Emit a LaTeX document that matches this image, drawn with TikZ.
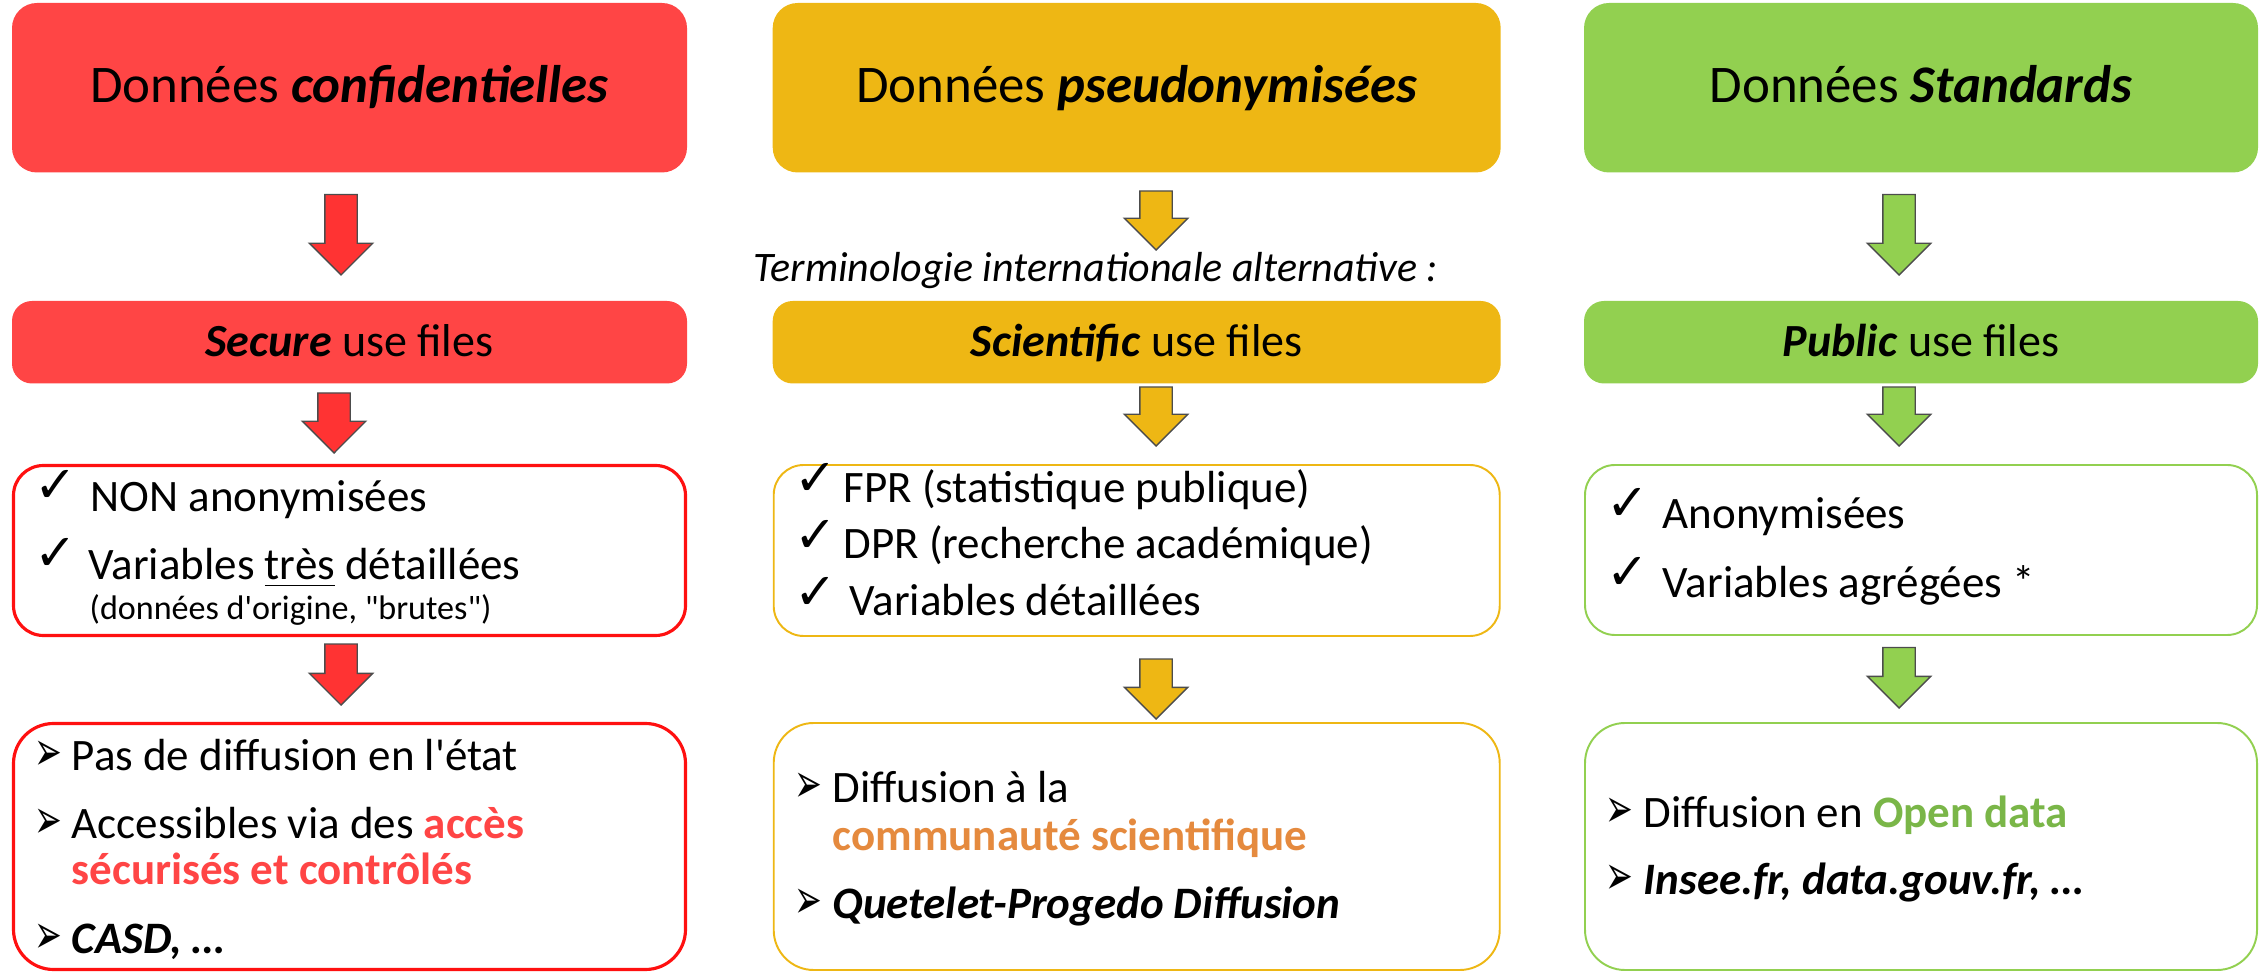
\documentclass[tikz,border=0pt]{standalone}
\usepackage{fontspec}
\setmainfont{Carlito}
\newfontfamily\symb{DejaVu Sans}
\usetikzlibrary{shapes.arrows}
\definecolor{redbox}{HTML}{FF4545}
\definecolor{redarr}{HTML}{FF3333}
\definecolor{redline}{HTML}{FF1010}
\definecolor{yelbox}{HTML}{EEB714}
\definecolor{grnbox}{HTML}{92D050}
\definecolor{grntext}{HTML}{7AB648}
\definecolor{orgtext}{HTML}{E58A3E}
\newcommand{\apos}{\textquotesingle}
\newcommand{\arrbul}{\scalebox{0.9}[1.5]{➢}}

\begin{document}
\begin{tikzpicture}[
    x=0.1mm, y=-0.1mm,
    headbox/.style={fill=#1, rounded corners=2.5mm, inner sep=0pt, minimum height=16.95mm,
        text height=3.6mm, text depth=0.7mm, font=\fontsize{15.05}{17}\selectfont},
    usebox/.style={fill=#1, rounded corners=2mm, inner sep=0pt, minimum height=8.25mm,
        text height=3.6mm, text depth=0.7mm, font=\fontsize{13.1}{16}\selectfont},
    framebox/.style={draw=#1, fill=white, line width=0.55pt, inner sep=0pt},
    downarrow/.style={single arrow, draw=black!70, line width=0.4pt, fill=#1, rotate=-90, anchor=tip,
        inner xsep=0pt, inner ysep=1.55mm, single arrow head extend=1.55mm,
        single arrow tip angle=90, single arrow head indent=0pt},
    line/.style={anchor=base west, inner sep=0pt, font=\fontsize{12.8}{15}\selectfont},
    small/.style={anchor=base west, inner sep=0pt, font=\fontsize{9.7}{12}\selectfont},
    tick/.style={anchor=base west, inner sep=0pt, font=\symb\fontsize{14.5}{16}\selectfont},
    bullet/.style={anchor=base west, inner sep=0pt, font=\symb\fontsize{10.5}{12}\selectfont}
]
\useasboundingbox (0,0) rectangle (2259,973);

% Headers
\node[headbox=redbox, minimum width=67.5mm] (conf) at (349.5,87.75) {Données \textbf{\textit{confidentielles}}};
\node[headbox=yelbox, minimum width=72.8mm] (pseudo) at (1136.7,87.75) {Données \textbf{\textit{pseudonymisées}}};
\node[headbox=grnbox, minimum width=67.4mm] (std) at (1921,87.75) {Données \textbf{\textit{Standards}}};

% Use files
\node[usebox=redbox, minimum width=67.5mm] (secure) at (349.5,342.25) {\textbf{\textit{Secure}} use files};
\node[usebox=yelbox, minimum width=72.8mm] (scient) at (1136.7,342.25) {\textbf{\textit{Scientific}} use files};
\node[usebox=grnbox, minimum width=67.4mm] (public) at (1921,342.25) {\textbf{\textit{Public}} use files};
\node[anchor=base west, inner sep=0pt, font=\fontsize{11.95}{14}\selectfont\itshape] (term) at (753,282) {Terminologie internationale alternative :};

% Frames
\node[framebox=redline, line width=0.9pt, rounded corners=3mm, minimum width=67.2mm, minimum height=17.0mm] (redvar) at (349.5,550.5) {};
\node[framebox=redline, line width=0.9pt, rounded corners=4mm, minimum width=67.2mm, minimum height=24.6mm] (reddif) at (349.5,846.5) {};
\node[framebox=yelbox, rounded corners=3mm, minimum width=72.6mm, minimum height=17.1mm] (yelvar) at (1136.7,550.5) {};
\node[framebox=yelbox, rounded corners=4mm, minimum width=72.6mm, minimum height=24.7mm] (yeldif) at (1136.7,846.5) {};
\node[framebox=grnbox, rounded corners=3mm, minimum width=67.2mm, minimum height=17.0mm] (grnvar) at (1921,550) {};
\node[framebox=grnbox, rounded corners=4mm, minimum width=67.2mm, minimum height=24.7mm] (grndif) at (1921,846.5) {};

% Arrows
\node[downarrow=redarr, minimum height=8.05mm] (ra1) at (341,276) {};
\node[downarrow=redarr, minimum height=6.0mm] (ra2) at (334,454) {};
\node[downarrow=redarr, minimum height=6.1mm] (ra3) at (341,706) {};
\node[downarrow=yelbox, minimum height=5.9mm] (ya1) at (1156,251) {};
\node[downarrow=yelbox, minimum height=5.9mm] (ya2) at (1156,447) {};
\node[downarrow=yelbox, minimum height=6.0mm] (ya3) at (1156,720) {};
\node[downarrow=grnbox, minimum height=8.05mm] (ga1) at (1899,276) {};
\node[downarrow=grnbox, minimum height=5.9mm] (ga2) at (1899,447) {};
\node[downarrow=grnbox, minimum height=6.05mm] (ga3) at (1899,709) {};

% Red column text
\node[tick] (rt1) at (34,503) {✓};
\node[line] (rl1) at (90,512) {NON anonymisées};
\node[tick] (rt2) at (34,571) {✓};
\node[line] (rl2) at (88,580) {Variables \underline{très} détaillées};
\node[small] (rl3) at (89,620) {(données d\apos origine, \textquotedbl brutes\textquotedbl)};
\node[bullet] (rb1) at (34,770) {\arrbul};
\node[line] (rd1) at (71,770) {Pas de diffusion en l\apos état};
\node[bullet] (rb2) at (34,838) {\arrbul};
\node[line] (rd2) at (71,838) {Accessibles via des \textcolor{redbox}{\textbf{accès}}};
\node[line] (rd3) at (71,884) {\textcolor{redbox}{\textbf{sécurisés et contrôlés}}};
\node[bullet] (rb3) at (34,953) {\arrbul};
\node[line] (rd4) at (71,953) {\textbf{\textit{CASD, …}}};

% Yellow column text
\node[tick] (yt1) at (794,496) {✓};
\node[line] (yl1) at (843,503) {FPR (statistique publique)};
\node[tick] (yt2) at (794,553) {✓};
\node[line] (yl2) at (843,559) {DPR (recherche académique)};
\node[tick] (yt3) at (794,610) {✓};
\node[line] (yl3) at (849,616) {Variables détaillées};
\node[bullet] (yb1) at (794,802) {\arrbul};
\node[line] (yd1) at (832,802) {Diffusion à la};
\node[line] (yd2) at (832,850) {\textcolor{orgtext}{\textbf{communauté scientifique}}};
\node[bullet] (yb2) at (794,918) {\arrbul};
\node[line] (yd3) at (832,918) {\textbf{\textit{Quetelet-Progedo Diffusion}}};

% Green column text
\node[tick] (gt1) at (1606,521) {✓};
\node[line] (gl1) at (1662,529) {Anonymisées};
\node[tick] (gt2) at (1606,590) {✓};
\node[line] (gl2) at (1662,598) {Variables agrégées *};
\node[bullet] (gb1) at (1605,827) {\arrbul};
\node[line] (gd1) at (1643,827) {Diffusion en \textcolor{grntext}{\textbf{Open data}}};
\node[bullet] (gb2) at (1605,894) {\arrbul};
\node[line] (gd2) at (1643,894) {\textbf{\textit{Insee.fr, data.gouv.fr, …}}};
\end{tikzpicture}
\end{document}
